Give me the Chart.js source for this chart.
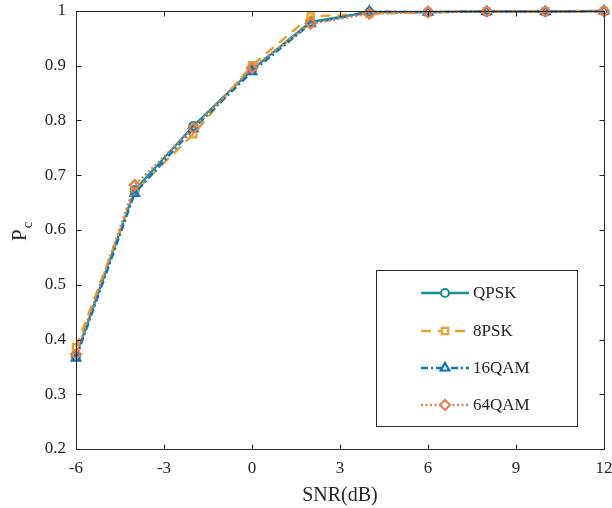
<!DOCTYPE html>
<html>
<head>
<meta charset="utf-8">
<script src="https://cdn.jsdelivr.net/npm/chart.js@4/dist/chart.umd.min.js"></script>
<style>
html,body{margin:0;padding:0;background:#fff;}
#wrap{width:612px;height:508px;}
</style>
</head>
<body>
<div id="wrap"><canvas id="c" width="612" height="508"></canvas></div>
<script>
const snr = [-6, -4, -2, 0, 2, 4, 6, 8, 10, 12];
const qpsk = [0.370, 0.673, 0.790, 0.893, 0.980, 0.998, 0.998, 0.999, 0.999, 1.000];
const psk8 = [0.386, 0.670, 0.775, 0.901, 0.990, 0.995, 0.998, 0.999, 0.999, 1.000];
const qam16 = [0.366, 0.667, 0.785, 0.889, 0.977, 0.999, 0.998, 0.999, 0.999, 1.000];
const qam64 = [0.373, 0.682, 0.786, 0.896, 0.977, 0.995, 0.998, 0.999, 0.999, 0.999];
const seriesNames = ['QPSK', '8PSK', '16QAM', '64QAM'];
const xTicks = [-6, -3, 0, 3, 6, 9, 12];
const yTicks = [0.2, 0.3, 0.4, 0.5, 0.6, 0.7, 0.8, 0.9, 1];
const xTitle = 'SNR(dB)';
const yTitleMain = 'P';
const yTitleSub = 'c';

const FONT = '"Liberation Serif", "Times New Roman", serif';
const AXC = '#262626';

function pts(ys){ return snr.map((x,i)=>({x:x,y:ys[i]})); }

const styles = [
  {color:'#1A9099', dash:[], pointStyle:'circle', radius:4},
  {color:'#E6A12E', dash:[10,7], pointStyle:'rect', radius:4.5},
  {color:'#0E72BD', dash:[7,3,2,3], pointStyle:'triangle', radius:5},
  {color:'#E3804F', dash:[2,2.5], pointStyle:'rectRot', radius:5}
];
const allY = [qpsk, psk8, qam16, qam64];

const datasets = allY.map((ys,i)=>({
  label: seriesNames[i],
  data: pts(ys),
  borderColor: styles[i].color,
  backgroundColor: styles[i].color,
  borderWidth: 2.4,
  borderDash: styles[i].dash,
  pointStyle: styles[i].pointStyle,
  pointRadius: styles[i].radius,
  pointBorderWidth: 2.2,
  pointBorderColor: styles[i].color,
  pointBackgroundColor: 'rgba(255,255,255,0)',
  tension: 0,
  clip: 8,
  order: 4 - i
}));

const framePlugin = {
  id: 'frame',
  afterDatasetsDraw(chart){
    const ctx = chart.ctx, a = chart.chartArea;
    const xs = chart.scales.x, ys = chart.scales.y;
    const L = Math.round(xs.getPixelForValue(-6)) + 0.5;
    const R = Math.round(xs.getPixelForValue(12)) + 0.5;
    const T = Math.round(ys.getPixelForValue(1)) + 0.5;
    const B = Math.round(ys.getPixelForValue(0.2)) + 0.5;
    ctx.save();
    ctx.strokeStyle = AXC; ctx.lineWidth = 1;
    ctx.strokeRect(L, T, R - L, B - T);
    const tl = 5;
    ctx.beginPath();
    xTicks.forEach(v=>{
      const px = Math.round(xs.getPixelForValue(v))+0.5;
      ctx.moveTo(px, B); ctx.lineTo(px, B - tl);
      ctx.moveTo(px, T); ctx.lineTo(px, T + tl);
    });
    yTicks.forEach(v=>{
      const py = Math.round(ys.getPixelForValue(v))+0.5;
      ctx.moveTo(L, py); ctx.lineTo(L + tl, py);
      ctx.moveTo(R, py); ctx.lineTo(R - tl, py);
    });
    ctx.stroke();

    // y title with subscript
    ctx.fillStyle = AXC;
    ctx.translate(26, 241);
    ctx.rotate(-Math.PI/2);
    ctx.font = '21px ' + FONT;
    ctx.textBaseline = 'alphabetic';
    ctx.textAlign = 'left';
    ctx.fillText(yTitleMain, 0, 0);
    const w = ctx.measureText(yTitleMain).width;
    ctx.font = '15px ' + FONT;
    ctx.fillText(yTitleSub, w + 1, 6);
    ctx.restore();

    // legend
    ctx.save();
    const bx = 376.5, by = 270.5, bw = 201, bh = 156;
    ctx.fillStyle = '#fff';
    ctx.fillRect(bx, by, bw, bh);
    ctx.strokeStyle = AXC; ctx.lineWidth = 1;
    ctx.strokeRect(bx, by, bw, bh);
    const rows = [293, 331, 368, 405];
    chart.data.datasets.forEach((ds, i)=>{
      const y = rows[i];
      ctx.strokeStyle = ds.borderColor;
      ctx.lineWidth = 2.4;
      ctx.setLineDash(ds.borderDash);
      ctx.beginPath();
      ctx.moveTo(421, y); ctx.lineTo(469, y);
      ctx.stroke();
      ctx.setLineDash([]);
      ctx.fillStyle = '#fff';
      ctx.strokeStyle = ds.borderColor;
      ctx.lineWidth = 2.2;
      Chart.helpers.drawPoint(ctx, {
        pointStyle: ds.pointStyle, radius: ds.pointRadius, rotation: 0, borderWidth: 2.2
      }, 445, y);
      ctx.fillStyle = AXC;
      ctx.font = '17px ' + FONT;
      ctx.textBaseline = 'middle';
      ctx.textAlign = 'left';
      ctx.fillText(ds.label, 473, y + 1);
    });
    ctx.restore();
  }
};

new Chart(document.getElementById('c'), {
  type: 'line',
  data: { datasets: datasets },
  options: {
    responsive: false,
    animation: false,
    devicePixelRatio: 1,
    layout: { padding: { top: 11, right: 8, left: 0, bottom: 0 } },
    plugins: { legend: { display: false }, tooltip: { enabled: false } },
    scales: {
      x: {
        type: 'linear', min: -6, max: 12,
        afterBuildTicks(s){ s.ticks = xTicks.map(v=>({value:v})); },
        afterFit(s){ s.height = 59; s.paddingLeft = 0; s.paddingRight = 0; },
        grid: { drawOnChartArea: false, drawTicks: false },
        border: { display: false },
        ticks: { color: AXC, font: { family: FONT, size: 17 }, padding: 9, maxRotation: 0 },
        title: { display: true, text: xTitle, color: AXC, font: { family: FONT, size: 20 }, padding: { top: 2, bottom: 0 } }
      },
      y: {
        type: 'linear', min: 0.2, max: 1,
        afterBuildTicks(s){ s.ticks = yTicks.map(v=>({value:v})); },
        afterFit(s){ s.width = 76; s.paddingTop = 0; s.paddingBottom = 0; },
        grid: { drawOnChartArea: false, drawTicks: false },
        border: { display: false },
        ticks: { color: AXC, font: { family: FONT, size: 17 }, padding: 10,
          callback: v => (v === 1 ? '1' : v.toFixed(1)) }
      }
    }
  },
  plugins: [framePlugin]
});
</script>
</body>
</html>
